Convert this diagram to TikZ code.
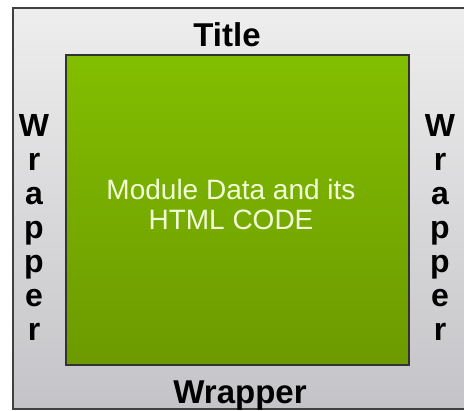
\documentclass[tikz,border=0pt]{standalone}
\usepackage{fontspec}
\setmainfont{Liberation Sans}
\begin{document}
\begin{tikzpicture}[x=1pt,y=1pt,
  lbl/.style={font=\fontsize{33}{33}\selectfont\bfseries, text=black, inner sep=0pt, anchor=base},
  vlbl/.style={font=\fontsize{32}{34}\selectfont\bfseries, text=black, inner sep=0pt, align=center},
  inner/.style={font=\fontsize{28}{30}\selectfont, text=innertext, align=center, inner sep=0pt}]
\definecolor{innertext}{HTML}{F2FFD8}
\definecolor{gtop}{HTML}{82BE00}
\definecolor{gbot}{HTML}{6C9A00}
\definecolor{wtop}{HTML}{EEEEEE}
\definecolor{wbot}{HTML}{C4C4C8}
\useasboundingbox (0,0) rectangle (464,411);
\fill[white] (0,0) rectangle (464,411);
\begin{scope}
\clip (0,0) rectangle (464,411);
\shade[top color=wtop, bottom color=wbot] (13,2) rectangle (470,403);
\draw[line width=1.5pt, draw=black!75] (13,2) rectangle (470,403);
\end{scope}
\shade[top color=gtop, bottom color=gbot] (66,46) rectangle (409,356);
\draw[line width=1.2pt, draw=black!80] (66,46) rectangle (409,356);
\node[inner] (body) at (231,206) {Module Data and its\\HTML CODE};
\node[lbl] (title) at (227,364) {Title};
\node[lbl] (bottom) at (240,7) {Wrapper};
\node[vlbl] (left) at (34,183.5) {W\\r\\a\\p\\p\\e\\r};
\node[vlbl] (right) at (440,183.5) {W\\r\\a\\p\\p\\e\\r};
\end{tikzpicture}
\end{document}
